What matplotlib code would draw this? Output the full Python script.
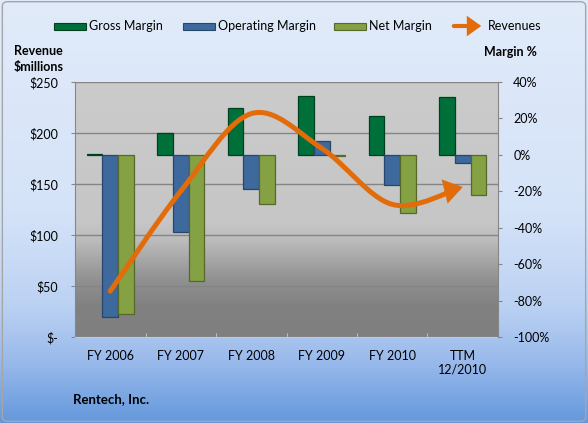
import numpy as np
import matplotlib.pyplot as plt
from matplotlib.path import Path
from matplotlib.patches import FancyArrowPatch, Rectangle, FancyBboxPatch
from matplotlib.colors import LinearSegmentedColormap

plt.rcParams['font.family'] = ['Lato', 'DejaVu Sans']

# data
categories = ['FY 2006', 'FY 2007', 'FY 2008', 'FY 2009', 'FY 2010', 'TTM\n12/2010']
gross_margin = [0.5, 12, 26, 32.5, 21.5, 31.5]          # %
operating_margin = [-89, -42.5, -18.5, 7.5, -16.5, -4.5]  # %
net_margin = [-87.5, -69.5, -27, -0.4, -32, -22]          # %
revenues = [45, 143, 219, 185, 130, 147]                  # $ millions

rev_ticks = [0, 50, 100, 150, 200, 250]
rev_labels = ['$-', '$50', '$100', '$150', '$200', '$250']
pct_ticks = [-100, -80, -60, -40, -20, 0, 20, 40]
pct_labels = ['%d%%' % t for t in pct_ticks]

W, H = 588, 423
fig = plt.figure(figsize=(W / 100, H / 100), dpi=100)

# figure background gradient (light blue to deeper blue)
bg = fig.add_axes([0, 0, 1, 1], zorder=-10)
bg_cmap = LinearSegmentedColormap.from_list('bg', [(0, '#e1ebfa'), (0.5, '#d5e3f8'), (0.72, '#bcd2f3'),
                                                    (0.86, '#98b9eb'), (1, '#6498dc')])
bg.imshow(np.linspace(0, 1, 256).reshape(-1, 1), cmap=bg_cmap, aspect='auto', extent=[0, 1, 0, 1])
bg.add_patch(FancyBboxPatch((0.004, 0.004), 0.992, 0.992, boxstyle='round,pad=0,rounding_size=0.01',
                            fill=False, ec='#a6a6a6', lw=1, transform=bg.transAxes))
bg.set_xlim(0, 1)
bg.set_ylim(0, 1)
bg.axis('off')

def px(x, y):
    return x / W, 1 - y / H

pos = [75 / W, (H - 337) / H, 423 / W, 255 / H]
ax = fig.add_axes(pos)
x = np.arange(len(categories))

# plot area background
pa_cmap = LinearSegmentedColormap.from_list('pa', [(0, '#cbcbcb'), (0.55, '#c6c6c6'), (0.62, '#bcbcbc'),
                                                    (0.78, '#909090'), (0.88, '#818181'), (1, '#7f7f7f')])
ax.imshow(np.linspace(0, 1, 256).reshape(-1, 1), cmap=pa_cmap, aspect='auto',
          extent=[-0.5, len(categories) - 0.5, 0, 250], zorder=0)
ax.set_xlim(-0.5, len(categories) - 0.5)
ax.set_ylim(0, 250)
ax.set_yticks(rev_ticks)
ax.set_yticklabels(rev_labels)
ax.grid(axis='y', color='#858585', lw=1)
ax.set_axisbelow(True)
ax.tick_params(axis='y', length=3, pad=9, labelsize=9, color='#868686')
ax.set_xticks(x)
ax.set_xticklabels(categories)
ax.tick_params(axis='x', length=0, pad=9, labelsize=9)
ax.set_xticks(np.arange(len(categories) + 1) - 0.5, minor=True)
ax.tick_params(axis='x', which='minor', direction='in', length=3, color='#d0d0d0')
for s in ['top', 'right']:
    ax.spines[s].set_visible(False)
ax.spines['left'].set_color('#868686')
ax.spines['bottom'].set_color('#c8c8c8')

# bars on margin % scale
axb = ax.twinx()
w = 0.22
bar_kw = dict(width=w, lw=0.9, zorder=3)
axb.bar(x - w, gross_margin, color='#00703a', edgecolor='#00401f', **bar_kw)
axb.bar(x, operating_margin, color='#3d699d', edgecolor='#27466d', **bar_kw)
axb.bar(x + w, net_margin, color='#84a143', edgecolor='#56692b', **bar_kw)
axb.set_ylim(-100, 40)
axb.set_yticks(pct_ticks)
axb.set_yticklabels(pct_labels)
axb.tick_params(axis='y', length=3, pad=8, labelsize=9, color='#868686')
for s in ['top', 'left', 'bottom']:
    axb.spines[s].set_visible(False)
axb.spines['right'].set_color('#868686')

# revenue line, smoothed like the spreadsheet (bezier through the points) with arrow head
axl = ax.twinx()
axl.set_ylim(0, 250)
axl.axis('off')
pts = np.column_stack([x, revenues]).astype(float)
verts = [pts[0]]
codes = [Path.MOVETO]
n = len(pts)
for i in range(n - 1):
    p_prev = pts[max(i - 1, 0)]
    p_next2 = pts[min(i + 2, n - 1)]
    c1 = pts[i] + (pts[i + 1] - p_prev) / 6
    c2 = pts[i + 1] - (p_next2 - pts[i]) / 6
    verts += [c1, c2, pts[i + 1]]
    codes += [Path.CURVE4] * 3
line = FancyArrowPatch(path=Path(verts, codes), arrowstyle='-|>,head_length=0.6,head_width=0.4',
                       mutation_scale=14, lw=3.6, color='#e36c0a', capstyle='round',
                       joinstyle='miter', transform=axl.transData, zorder=5)
axl.add_patch(line)

# legend drawn by hand across the top
leg_items = [('Gross Margin', '#00703a', '#00401f', 54), ('Operating Margin', '#3d699d', '#27466d', 183),
             ('Net Margin', '#84a143', '#56692b', 334)]
for label, fc, ec, lx in leg_items:
    fig.patches.append(Rectangle(px(lx, 30), 32 / W, 7 / H, fc=fc, ec=ec, lw=0.8,
                                 transform=fig.transFigure, figure=fig))
    fig.text(*px(lx + 35, 26), label, fontsize=9, va='center', ha='left')
fig.patches.append(FancyArrowPatch(px(451, 26), px(484, 26), arrowstyle='-|>,head_length=0.7,head_width=0.5',
                                   mutation_scale=9, lw=3, color='#e36c0a', joinstyle='miter',
                                   transform=fig.transFigure, figure=fig))
fig.text(*px(488, 26), 'Revenues', fontsize=9, va='center', ha='left')

fig.text(*px(14, 59), 'Revenue\n$millions', fontsize=9, fontweight='bold', va='center', ha='left',
         linespacing=1.35)
fig.text(*px(484, 52), 'Margin %', fontsize=9, fontweight='bold', va='center', ha='left')
fig.text(*px(73, 399), 'Rentech, Inc.', fontsize=9.5, fontweight='bold', va='center', ha='left')

fig.savefig('out.png', dpi=100)
